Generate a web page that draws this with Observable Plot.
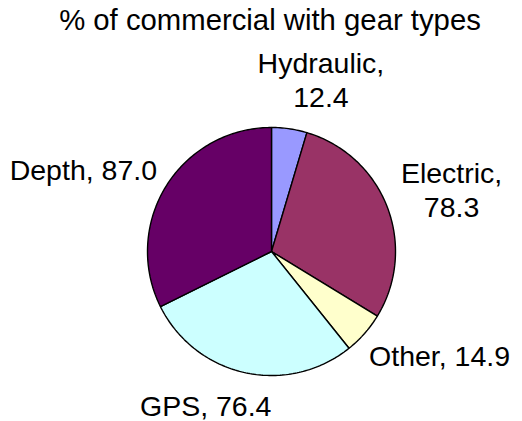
<!DOCTYPE html>
<html><head><meta charset="utf-8">
<script src="https://cdn.jsdelivr.net/npm/d3@7"></script>
<script src="https://cdn.jsdelivr.net/npm/@observablehq/plot@0.6"></script>
<style>
body{margin:0;background:#fff;}
#title{width:504px;padding-left:18px;height:40px;line-height:40px;text-align:center;font-size:29.3px;font-family:"Liberation Sans",Arial,sans-serif;color:#000;white-space:nowrap;}
</style></head><body>
<div id="title">% of commercial with gear types</div>
<div id="chart"></div>
<script>
const categories = ["Hydraulic", "Electric", "Other", "GPS", "Depth"];
const values = [12.4, 78.3, 14.9, 76.4, 87.0];
const colors = ["#9999FF", "#993366", "#FFFFCC", "#CCFFFF", "#660066"];
const labelTexts = ["Hydraulic,\n12.4", "Electric,\n78.3", "Other, 14.9", "GPS, 76.4", "Depth, 87.0"];

const fontSize = 28.5, lineHeight = 1.2, font = '"Liberation Sans", Arial, sans-serif';
const width = 522, height = 381;
const margins = {marginLeft: 147, marginRight: 127, marginTop: 87, marginBottom: 46};
const rpx = (width - margins.marginLeft - margins.marginRight) / 2;

const data = categories.map((c, i) => ({category: c, value: values[i], label: labelTexts[i]}));
const arcs = d3.pie().sort(null).value(d => d.value)(data);

// slice outlines in unit-radius data space
const slicePts = [];
for (const a of arcs) {
  slicePts.push({category: a.data.category, x: 0, y: 0});
  const n = Math.max(2, Math.ceil((a.endAngle - a.startAngle) / (Math.PI / 180)));
  for (let k = 0; k <= n; ++k) {
    const t = a.startAngle + (a.endAngle - a.startAngle) * k / n;
    slicePts.push({category: a.data.category, x: Math.sin(t), y: Math.cos(t)});
  }
}

// label placement: outside end, box pushed outward from anchor
const ctx = document.createElement("canvas").getContext("2d");
ctx.font = `${fontSize}px ${font}`;
const anchorR = 1.13;
const labelPts = arcs.map(a => {
  const t = (a.startAngle + a.endAngle) / 2;
  const s = Math.sin(t), c = Math.cos(t);
  const lines = a.data.label.split("\n");
  const w = d3.max(lines, l => ctx.measureText(l).width);
  const h = lines.length * lineHeight * fontSize;
  const sx = Math.sign(s) * Math.pow(Math.abs(s), 0.4);
  return {
    label: a.data.label,
    x: anchorR * s + sx * w / 2 / rpx,
    y: anchorR * c + c * h / 2 / rpx
  };
});

const chart = Plot.plot({
  width, height, ...margins,
  x: {domain: [-1, 1], axis: null},
  y: {domain: [-1, 1], axis: null},
  color: {domain: categories, range: colors},
  style: {fontFamily: font, background: "#fff"},
  marks: [
    Plot.line(slicePts, {x: "x", y: "y", z: "category", fill: "category", stroke: "black", strokeWidth: 1.4, curve: "linear-closed", strokeLinejoin: "miter"}),
    Plot.text(labelPts, {x: "x", y: "y", text: "label", fontSize, lineHeight, fill: "black", textAnchor: "middle", lineAnchor: "middle"})
  ]
});
document.getElementById("chart").appendChild(chart);
</script>
</body></html>
